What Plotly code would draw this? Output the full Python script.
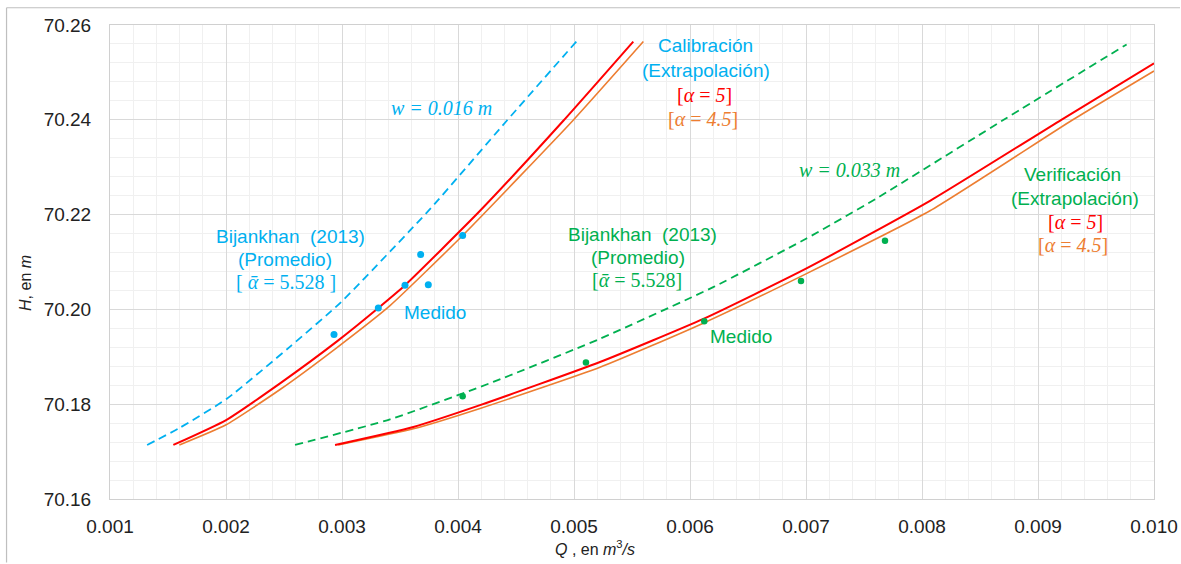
import plotly.graph_objects as go

# ---------------- data ----------------
# Calibration: w = 0.016 m
cal_w_Q = [0.00132, 0.00160, 0.00201, 0.00255, 0.00299, 0.00376, 0.00442, 0.00502]
cal_w_H = [70.1714, 70.1750, 70.1812, 70.1921, 70.2015, 70.2212, 70.2398, 70.2565]
# Calibration extrapolation alpha = 5
cal_a5_Q = [0.001546, 0.001997, 0.002466, 0.002954, 0.003313, 0.003543, 0.004190, 0.004908, 0.005511]
cal_a5_H = [70.1714, 70.1766, 70.1844, 70.1932, 70.2003, 70.2051, 70.2208, 70.2398, 70.2565]
# Calibration extrapolation alpha = 4.5
cal_a45_Q = [0.001598, 0.001997, 0.002466, 0.002954, 0.003414, 0.004040, 0.004989, 0.005598]
cal_a45_H = [70.1714, 70.1756, 70.1831, 70.1919, 70.2008, 70.2156, 70.2398, 70.2565]
# Calibration measured
cal_meas_Q = [0.002931, 0.003313, 0.003543, 0.003678, 0.003744, 0.004040]
cal_meas_H = [70.1947, 70.2003, 70.2051, 70.2116, 70.2052, 70.2156]

# Verification: w = 0.033 m
ver_w_Q = [0.002595, 0.003414, 0.004304, 0.005224, 0.006200, 0.007000, 0.007600, 0.008704, 0.009764]
ver_w_H = [70.1714, 70.1768, 70.1847, 70.1938, 70.2047, 70.2149, 70.2233, 70.2400, 70.2559]
# Verification extrapolation alpha = 5
ver_a5_Q = [0.002940, 0.003615, 0.004190, 0.005224, 0.006115, 0.007000, 0.008069, 0.009201, 0.010000]
ver_a5_H = [70.1714, 70.1752, 70.1798, 70.1889, 70.1980, 70.2086, 70.2229, 70.2400, 70.2519]
# Verification extrapolation alpha = 4.5
ver_a45_Q = [0.002968, 0.003615, 0.004190, 0.005224, 0.006115, 0.007000, 0.008069, 0.009300, 0.010000]
ver_a45_H = [70.1714, 70.1748, 70.1791, 70.1878, 70.1971, 70.2075, 70.2208, 70.2400, 70.2503]
# Verification measured
ver_meas_Q = [0.004040, 0.005103, 0.006123, 0.006957, 0.007681]
ver_meas_H = [70.1817, 70.1888, 70.1975, 70.2060, 70.2145]

x_tick_vals = [0.001, 0.002, 0.003, 0.004, 0.005, 0.006, 0.007, 0.008, 0.009, 0.010]
y_tick_vals = [70.16, 70.18, 70.20, 70.22, 70.24, 70.26]

# ---------------- styles ----------------
BLUE = "#00B0F0"
RED = "#FF0000"
ORANGE = "#ED7D31"
GREEN = "#00B050"
SANS = "Liberation Sans, Arial, sans-serif"
SERIF = "Liberation Serif, DejaVu Serif, serif"

fig = go.Figure()

def line(q, h, color, width, dash=None):
    fig.add_trace(go.Scatter(
        x=q, y=h, mode="lines",
        line=dict(color=color, width=width, dash=dash, shape="spline", smoothing=0.5),
        showlegend=False, hoverinfo="skip"))

line(cal_w_Q, cal_w_H, BLUE, 1.8, "8px,5px")
line(cal_a45_Q, cal_a45_H, ORANGE, 1.6)
line(cal_a5_Q, cal_a5_H, RED, 2)
line(ver_w_Q, ver_w_H, GREEN, 1.8, "8px,5px")
line(ver_a45_Q, ver_a45_H, ORANGE, 1.6)
line(ver_a5_Q, ver_a5_H, RED, 2)

fig.add_trace(go.Scatter(x=cal_meas_Q, y=cal_meas_H, mode="markers",
                         marker=dict(color=BLUE, size=7), showlegend=False))
fig.add_trace(go.Scatter(x=ver_meas_Q, y=ver_meas_H, mode="markers",
                         marker=dict(color=GREEN, size=6.5), showlegend=False))

def ann(x, y, text, color, family=SANS, size=19):
    fig.add_annotation(x=x, y=y, xref="x", yref="y", text=text, showarrow=False,
                       font=dict(family=family, size=size, color=color),
                       xanchor="center", yanchor="middle")

# w labels
ann(0.003859, 70.2425, "<i>w = 0.016 m</i>", BLUE, family=SERIF, size=20)
ann(0.007372, 70.2294, "<i>w = 0.033 m</i>", GREEN, family=SERIF, size=20)

# Calibración block
ann(0.006134, 70.2556, "Calibración", BLUE)
ann(0.006134, 70.2503, "(Extrapolación)", BLUE)
ann(0.006125, 70.2453, "[<i>α</i> = <i>5</i>]", RED, family=SERIF, size=20)
ann(0.006115, 70.2402, "[<i>α</i> = <i>4.5</i>]", ORANGE, family=SERIF, size=20)

# Verificación block
ann(0.009300, 70.2284, "Verificación", GREEN)
ann(0.009318, 70.2235, "(Extrapolación)", GREEN)
ann(0.009322, 70.2184, "[<i>α</i> = <i>5</i>]", RED, family=SERIF, size=20)
ann(0.009305, 70.2135, "[<i>α</i> = <i>4.5</i>]", ORANGE, family=SERIF, size=20)

# Bijankhan blue
ann(0.002552, 70.2154, "Bijankhan\u00a0 (2013)", BLUE)
ann(0.002511, 70.2105, "(Promedio)", BLUE)
ann(0.002516, 70.2057, "[ <i>ᾱ</i> = 5.528 ]", BLUE, family=SERIF, size=20)

# Bijankhan green
ann(0.005593, 70.2159, "Bijankhan\u00a0 (2013)", GREEN)
ann(0.005550, 70.2110, "(Promedio)", GREEN)
ann(0.005547, 70.2061, "[<i>ᾱ</i> = 5.528]", GREEN, family=SERIF, size=20)

# Medido
ann(0.003802, 70.1994, "Medido", BLUE)
ann(0.006440, 70.1943, "Medido", GREEN)

# axis titles as annotations
fig.add_annotation(x=0.4646, y=-0.1034, xref="paper", yref="paper", showarrow=False,
                   text="<i>Q</i> , en <i>m</i><sup>3</sup><i>/s</i>",
                   font=dict(family=SANS, size=16, color="#222"),
                   xanchor="center", yanchor="middle")
fig.add_annotation(x=-0.0805, y=0.4557, xref="paper", yref="paper", showarrow=False,
                   text="<i>H</i>, en <i>m</i>", textangle=-90,
                   font=dict(family=SANS, size=16, color="#222"),
                   xanchor="center", yanchor="middle")

# outer chart border (only top and left edges are inside the window)
fig.add_shape(type="line", xref="paper", yref="paper",
              x0=-0.0991, x1=1.0249, y0=1.0364, y1=1.0364,
              line=dict(color="#BFBFBF", width=1.2), layer="below")
fig.add_shape(type="line", xref="paper", yref="paper",
              x0=-0.0991, x1=-0.0991, y0=-0.1340, y1=1.0364,
              line=dict(color="#BFBFBF", width=1.2), layer="below")

fig.update_layout(
    width=1181, height=564,
    margin=dict(l=110, r=27, t=25, b=65, autoexpand=False),
    paper_bgcolor="white", plot_bgcolor="white",
    font=dict(family=SANS, size=19, color="#222"),
    showlegend=False,
)
fig.update_xaxes(
    range=[0.001, 0.010], tickvals=x_tick_vals, tickformat=".3f",
    showgrid=True, gridcolor="#D9D9D9", gridwidth=1,
    minor=dict(dtick=0.0002, showgrid=True, gridcolor="#F0F0F0", gridwidth=1),
    showline=True, linecolor="#D0D0D0", linewidth=1, mirror=True,
    zeroline=False, ticks="", ticklabelstandoff=10, automargin=False,
    tickfont=dict(family=SANS, size=19, color="#222"),
)
fig.update_yaxes(
    range=[70.16, 70.26], tickvals=y_tick_vals, tickformat=".2f",
    showgrid=True, gridcolor="#D9D9D9", gridwidth=1,
    minor=dict(dtick=0.004, showgrid=True, gridcolor="#F0F0F0", gridwidth=1),
    showline=True, linecolor="#D0D0D0", linewidth=1, mirror=True,
    zeroline=False, ticks="", ticklabelstandoff=14, automargin=False,
    tickfont=dict(family=SANS, size=19, color="#222"),
)

fig.write_html("out.html")
